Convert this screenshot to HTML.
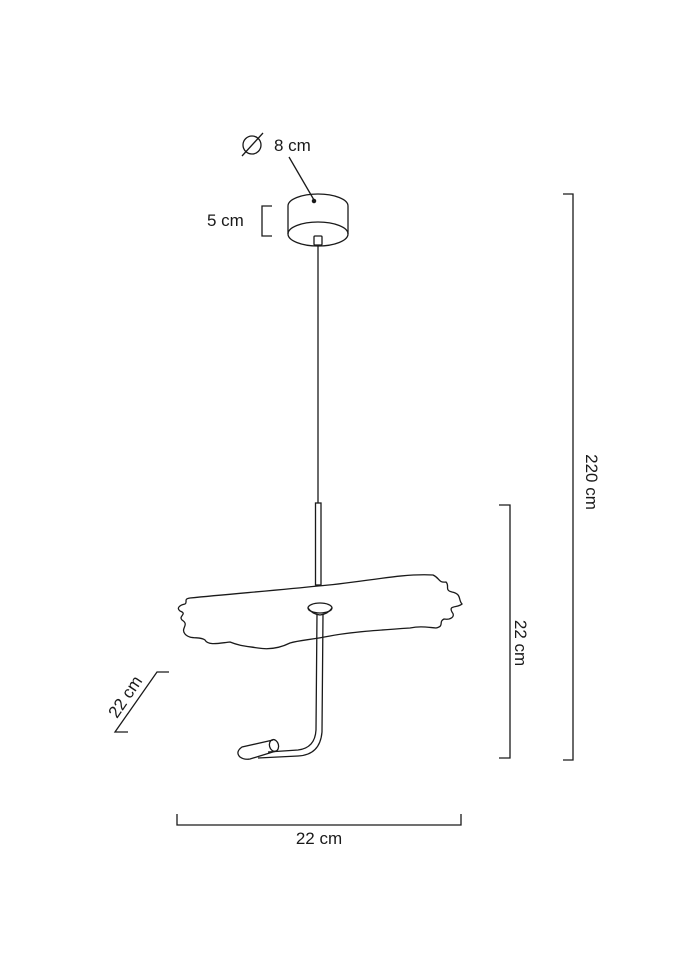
<!DOCTYPE html>
<html><head><meta charset="utf-8"><style>
html,body{margin:0;padding:0;background:#fff;}
svg{display:block;}
text{font-family:"Liberation Sans",sans-serif;font-size:17px;fill:#1a1a1a;}
</style></head><body>
<svg width="679" height="960" viewBox="0 0 679 960" xmlns="http://www.w3.org/2000/svg">
<g fill="none" stroke="#1a1a1a" stroke-width="1.3">
<path d="M288,206 A30,12 0 0 1 348,206 L348,234 A30,12 0 0 1 288,234 Z"/>
<path d="M288,234 A30,12 0 0 1 348,234"/>
<rect x="314" y="236" width="8" height="9" rx="1"/>
<line x1="318" y1="245" x2="318" y2="503"/>
<rect x="315.5" y="503" width="5.5" height="82"/>
<line x1="289" y1="157" x2="314" y2="200"/>
<circle cx="314" cy="201" r="1.6" fill="#1a1a1a"/>
<circle cx="252" cy="145" r="9"/>
<line x1="242" y1="156" x2="263" y2="133"/>
<polyline points="272,206 262,206 262,236 272,236"/>
<path d="M190,598 C230,594 280,590 318,586 C360,583 400,573 433,575 C440,578 438,583 446,582 C450,586 444,590 452,592 C462,594 458,600 462,604 C458,608 448,605 452,612 C456,617 450,620 444,619 C438,622 445,626 436,628 C425,627 420,626 410,628 C380,630 350,632 330,636 C310,640 300,640 290,643 C280,648 270,650 258,648 C245,646 240,646 230,642 C220,643 208,646 205,640 C200,636 190,640 185,634 C180,628 190,625 182,620 C178,616 188,614 180,611 C176,608 180,605 185,604 C188,602 183,599 190,598 Z"/>
<ellipse cx="320" cy="608" rx="12" ry="5"/>
<path d="M308,608 Q312,614 320,615 Q328,614 332,608"/>
<path d="M317,614 L316,730 Q315,748 298,750 L268,752"/>
<path d="M323,614 L322,732 Q320,755 298,756 L258,758"/>
<path d="M273,740 L242,747 Q235,752 240,757 Q244,760 250,759 L276,751"/>
<ellipse cx="274" cy="745.5" rx="4.5" ry="6" transform="rotate(-15 274 745.5)"/>
<polyline points="563,194 573,194 573,760 563,760"/>
<polyline points="499,505 510,505 510,758 499,758"/>
<polyline points="177,814 177,825 461,825 461,814"/>
<polyline points="169,672 157,672 115,732 128,732"/>
</g>
<text x="274" y="151">8 cm</text>
<text x="207" y="226">5 cm</text>
<text x="319" y="844" text-anchor="middle">22 cm</text>
<text transform="translate(586,482) rotate(90)" text-anchor="middle">220 cm</text>
<text transform="translate(515,643) rotate(90)" text-anchor="middle">22 cm</text>
<text transform="translate(130,700) rotate(-56)" text-anchor="middle">22 cm</text>
</svg>
</body></html>
